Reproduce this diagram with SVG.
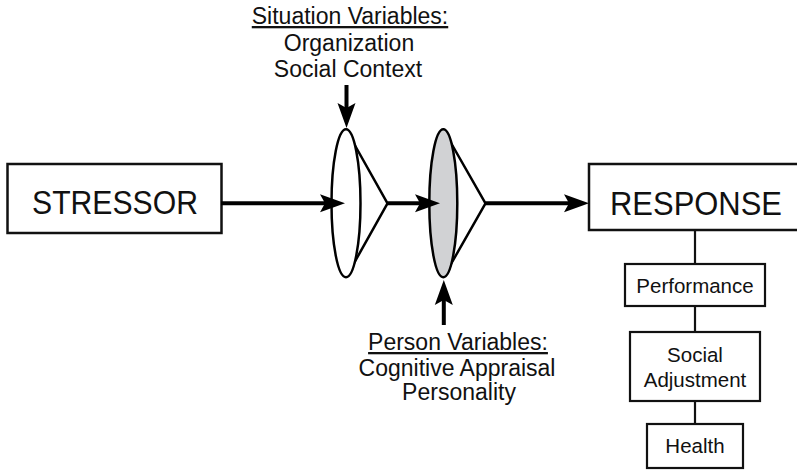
<svg xmlns="http://www.w3.org/2000/svg" width="797" height="470" viewBox="0 0 797 470">
  <style>
    .box { fill: #fff; stroke: #111; stroke-width: 2.5; }
    .sub { fill: #fff; stroke: #111; stroke-width: 2.2; }
    .lens { fill: #fff; stroke: #000; stroke-width: 2.5; stroke-linejoin: round; }
    .lens-shade { fill: #d1d2d4; stroke: #000; stroke-width: 2.5; }
    .big { font-family: "Liberation Sans", Arial, sans-serif; font-size: 33px; fill: #111; text-anchor: middle; }
    .lbl { font-family: "Liberation Sans", Arial, sans-serif; font-size: 23px; fill: #111; text-anchor: middle; }
    .small { font-family: "Liberation Sans", Arial, sans-serif; font-size: 20.5px; fill: #111; text-anchor: middle; }
    .ul { text-decoration: underline; }
    .flow { stroke: #000; stroke-width: 4; fill: none; marker-end: url(#head); }
    .link { stroke: #111; stroke-width: 2.2; fill: none; }
  </style>
  <defs>
    <!-- notched arrowhead; the shaft ends at the notch -->
    <marker id="head" markerUnits="userSpaceOnUse" viewBox="-1 -10 27 20" refX="5" refY="0" markerWidth="27" markerHeight="20" orient="auto">
      <path d="M0,-9 L25,0 L0,9 L5,0 Z" fill="#000"/>
    </marker>
  </defs>

  <g id="stressor">
    <rect class="box" x="7.5" y="164" width="214" height="69"/>
    <text class="big" x="115" y="214" textLength="166" lengthAdjust="spacingAndGlyphs">STRESSOR</text>
  </g>

  <g id="response">
    <rect class="box" x="589" y="164" width="215" height="66"/>
    <text class="big" x="696" y="215" textLength="172" lengthAdjust="spacingAndGlyphs">RESPONSE</text>
  </g>

  <g id="situation-lens">
    <path class="lens" d="M346,129.5 L387.5,203.3 L346,277.5"/>
    <ellipse class="lens" cx="346" cy="203.3" rx="14.5" ry="74"/>
  </g>

  <g id="person-lens">
    <path class="lens" d="M443.3,129.5 L485.5,203.3 L443.3,277.5"/>
    <ellipse class="lens-shade" cx="443.3" cy="203.3" rx="14" ry="74"/>
  </g>

  <g id="situation-variables">
    <text class="lbl ul" x="350" y="24">Situation Variables:</text>
    <text class="lbl" x="349" y="51">Organization</text>
    <text class="lbl" x="348" y="77">Social Context</text>
  </g>

  <g id="person-variables">
    <text class="lbl ul" x="458" y="350">Person Variables:</text>
    <text class="lbl" x="457" y="376">Cognitive Appraisal</text>
    <text class="lbl" x="459" y="400">Personality</text>
  </g>

  <g id="performance">
    <rect class="sub" x="625" y="264" width="140" height="42"/>
    <text class="small" x="695" y="293">Performance</text>
  </g>

  <g id="social-adjustment">
    <rect class="sub" x="630" y="332" width="130" height="69"/>
    <text class="small" x="695" y="361.5">Social</text>
    <text class="small" x="695" y="387">Adjustment</text>
  </g>

  <g id="health">
    <rect class="sub" x="647" y="424" width="96" height="44"/>
    <text class="small" x="695" y="453">Health</text>
  </g>

  <g id="connectors">
    <line class="flow" x1="221" y1="203.3" x2="325" y2="203.3"/>
    <line class="flow" x1="387.5" y1="203.3" x2="420" y2="203.3"/>
    <line class="flow" x1="485.5" y1="203.3" x2="569" y2="203.3"/>
    <line class="flow" x1="346.5" y1="85" x2="346.5" y2="108"/>
    <line class="flow" x1="443.8" y1="325" x2="443.8" y2="300"/>
    <line class="link" x1="695" y1="230" x2="695" y2="264"/>
    <line class="link" x1="695" y1="306" x2="695" y2="332"/>
    <line class="link" x1="695" y1="401" x2="695" y2="424"/>
  </g>
</svg>
